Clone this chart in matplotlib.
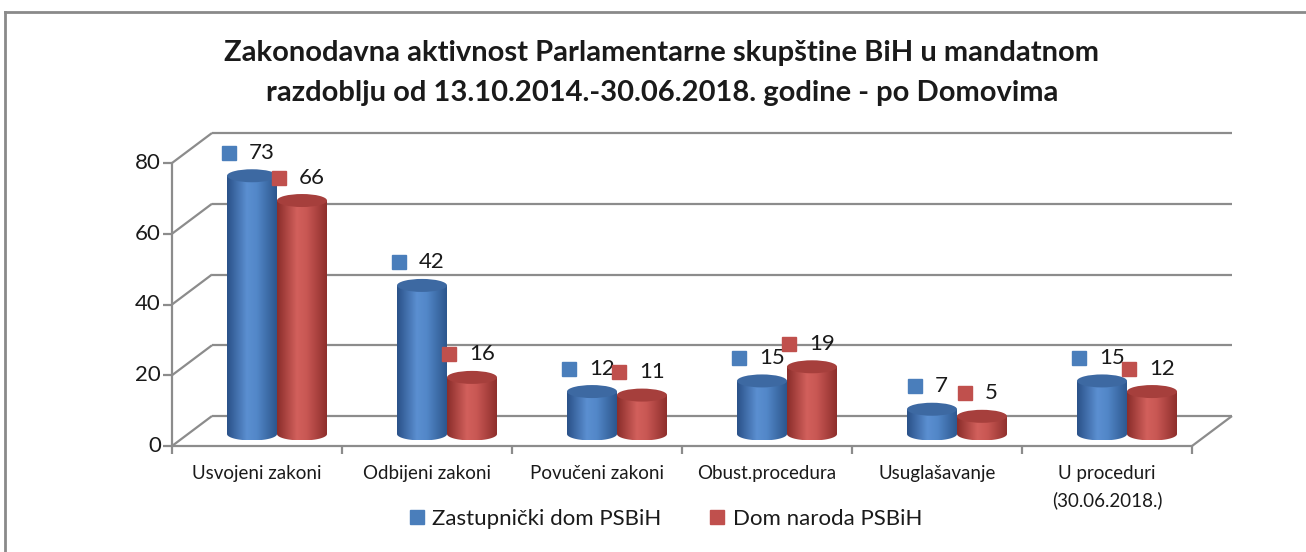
import numpy as np
import matplotlib.pyplot as plt
from matplotlib.patches import Ellipse, PathPatch
from matplotlib.path import Path
from matplotlib.lines import Line2D
from matplotlib.colors import LinearSegmentedColormap

categories = ["Usvojeni zakoni", "Odbijeni zakoni", "Povučeni zakoni",
              "Obust.procedura", "Usuglašavanje", "U proceduri\n(30.06.2018.)"]
zastupnicki = [73, 42, 12, 15, 7, 15]
dom_naroda = [66, 16, 11, 19, 5, 12]
series_names = ["Zastupnički dom PSBiH", "Dom naroda PSBiH"]
yticks = [0, 20, 40, 60, 80]

title = ("Zakonodavna aktivnost Parlamentarne skupštine BiH u mandatnom\n"
         "razdoblju od 13.10.2014.-30.06.2018. godine - po Domovima")

plt.rcParams['font.family'] = ['Lato', 'DejaVu Sans']

W, H = 1306, 552
fig = plt.figure(figsize=(W / 100, H / 100), dpi=100)
fig.patch.set_facecolor('white')

# front plane of the plot area (pixels: x 172..1192, y 446..163)
ax = fig.add_axes([172 / W, (H - 446) / H, 1020 / W, 283 / H])
ax.set_xlim(0, 6)
ax.set_ylim(0, 80)
ax.axis('off')

px_x = 1020 / 6          # pixels per category
px_y = 283 / 80          # pixels per unit
depth_x = 40 / px_x      # back wall offset
depth_y = 30 / px_y
bar_dx = 20 / px_x       # bars sit half way in depth
bar_dy = 12 / px_y
bw = 50 / px_x
eh = 13 / px_y

grid_c = '#8c8c8c'
line_kw = dict(color=grid_c, lw=1.6, clip_on=False, zorder=1, solid_capstyle='butt')

# back wall gridlines and left wall diagonals
for v in yticks:
    ax.plot([depth_x, 6 + depth_x], [v + depth_y, v + depth_y], **line_kw)
    ax.plot([0, depth_x], [v, v + depth_y], **line_kw)
    ax.plot([-9 / px_x, 0], [v, v], **line_kw)
    ax.text(-11 / px_x, v, str(v), ha='right', va='center', fontsize=16, color='#1a1a1a')
ax.plot([0, 0], [0, 80], **line_kw)
ax.plot([0, 6], [0, 0], **line_kw)
ax.plot([6, 6 + depth_x], [0, depth_y], **line_kw)
for i in range(7):
    ax.plot([i, i], [0, -8 / px_y], **line_kw)

blue_cm = LinearSegmentedColormap.from_list(
    'b', [(0, '#2a5188'), (0.4, '#5b8fd1'), (0.6, '#5287c8'), (1, '#2c568d')])
red_cm = LinearSegmentedColormap.from_list(
    'r', [(0, '#8a2d2a'), (0.4, '#d2605c'), (0.6, '#c85753'), (1, '#8e2f2c')])
grad = np.linspace(0, 1, 256).reshape(1, -1)


def cylinder(xc, v, cmap, top_color):
    x0, x1 = xc - bw / 2, xc + bw / 2
    yb = bar_dy
    yt = v + bar_dy
    t = np.linspace(np.pi, 2 * np.pi, 60)
    arc = np.column_stack([xc + bw / 2 * np.cos(t), yb + eh / 2 * np.sin(t)])
    verts = np.vstack([[x0, yt], arc, [x1, yt], [x0, yt]])
    clip = PathPatch(Path(verts, closed=True), facecolor='none', edgecolor='none')
    ax.add_patch(clip)
    im = ax.imshow(grad, cmap=cmap, extent=[x0, x1, yb - eh / 2, yt],
                   aspect='auto', interpolation='bilinear', zorder=3)
    im.set_clip_path(clip)
    ax.add_patch(Ellipse((xc, yt), bw, eh, facecolor=top_color,
                         edgecolor='none', zorder=4))


def data_label(xc, v, color):
    s = str(v)
    tw = 12.5 * len(s)
    total = 27 + tw
    sq = -4 - total / 2 + 7
    y = v + bar_dy + 23 / px_y
    ax.plot([xc + sq / px_x], [y], marker='s', markersize=10, color=color,
            linestyle='none', clip_on=False, zorder=5)
    ax.text(xc + (sq + 20) / px_x, y, s, ha='left', va='center',
            fontsize=16, color='#1a1a1a', zorder=5)


for i in range(len(categories)):
    gc = i + 0.5 + bar_dx
    cylinder(gc - bw / 2, zastupnicki[i], blue_cm, '#3d69a2')
    cylinder(gc + bw / 2, dom_naroda[i], red_cm, '#a63f3c')
    data_label(gc - bw / 2, zastupnicki[i], '#4a7ebb')
    data_label(gc + bw / 2, dom_naroda[i], '#c0504d')
    ax.text(i + 0.5, -19 / px_y, categories[i], ha='center', va='top',
            fontsize=13.5, color='#1a1a1a', linespacing=1.6)

ax.set_xlim(0, 6)
ax.set_ylim(0, 80)

fig.text(662 / W, 1 - 73 / H, title, ha='center', va='center',
         fontsize=21, fontweight='bold', linespacing=1.62, color='#1a1a1a')

handles = [Line2D([], [], marker='s', markersize=10, linestyle='none', color='#4a7ebb'),
           Line2D([], [], marker='s', markersize=10, linestyle='none', color='#c0504d')]
fig.legend(handles, series_names, loc='center', bbox_to_anchor=(666 / W, 1 - 519 / H),
           ncol=2, frameon=False, fontsize=16, handlelength=0.6, handletextpad=0.4,
           columnspacing=2.2, labelcolor='#1a1a1a')

# outer chart border (only top and left edges are visible)
fig.add_artist(Line2D([5 / W, 5 / W], [0, 1 - 12 / H], color='#8a8a8a', lw=2,
                      transform=fig.transFigure))
fig.add_artist(Line2D([5 / W, 1], [1 - 12 / H, 1 - 12 / H], color='#8a8a8a', lw=2,
                      transform=fig.transFigure))

fig.savefig('out.png', dpi=100)
